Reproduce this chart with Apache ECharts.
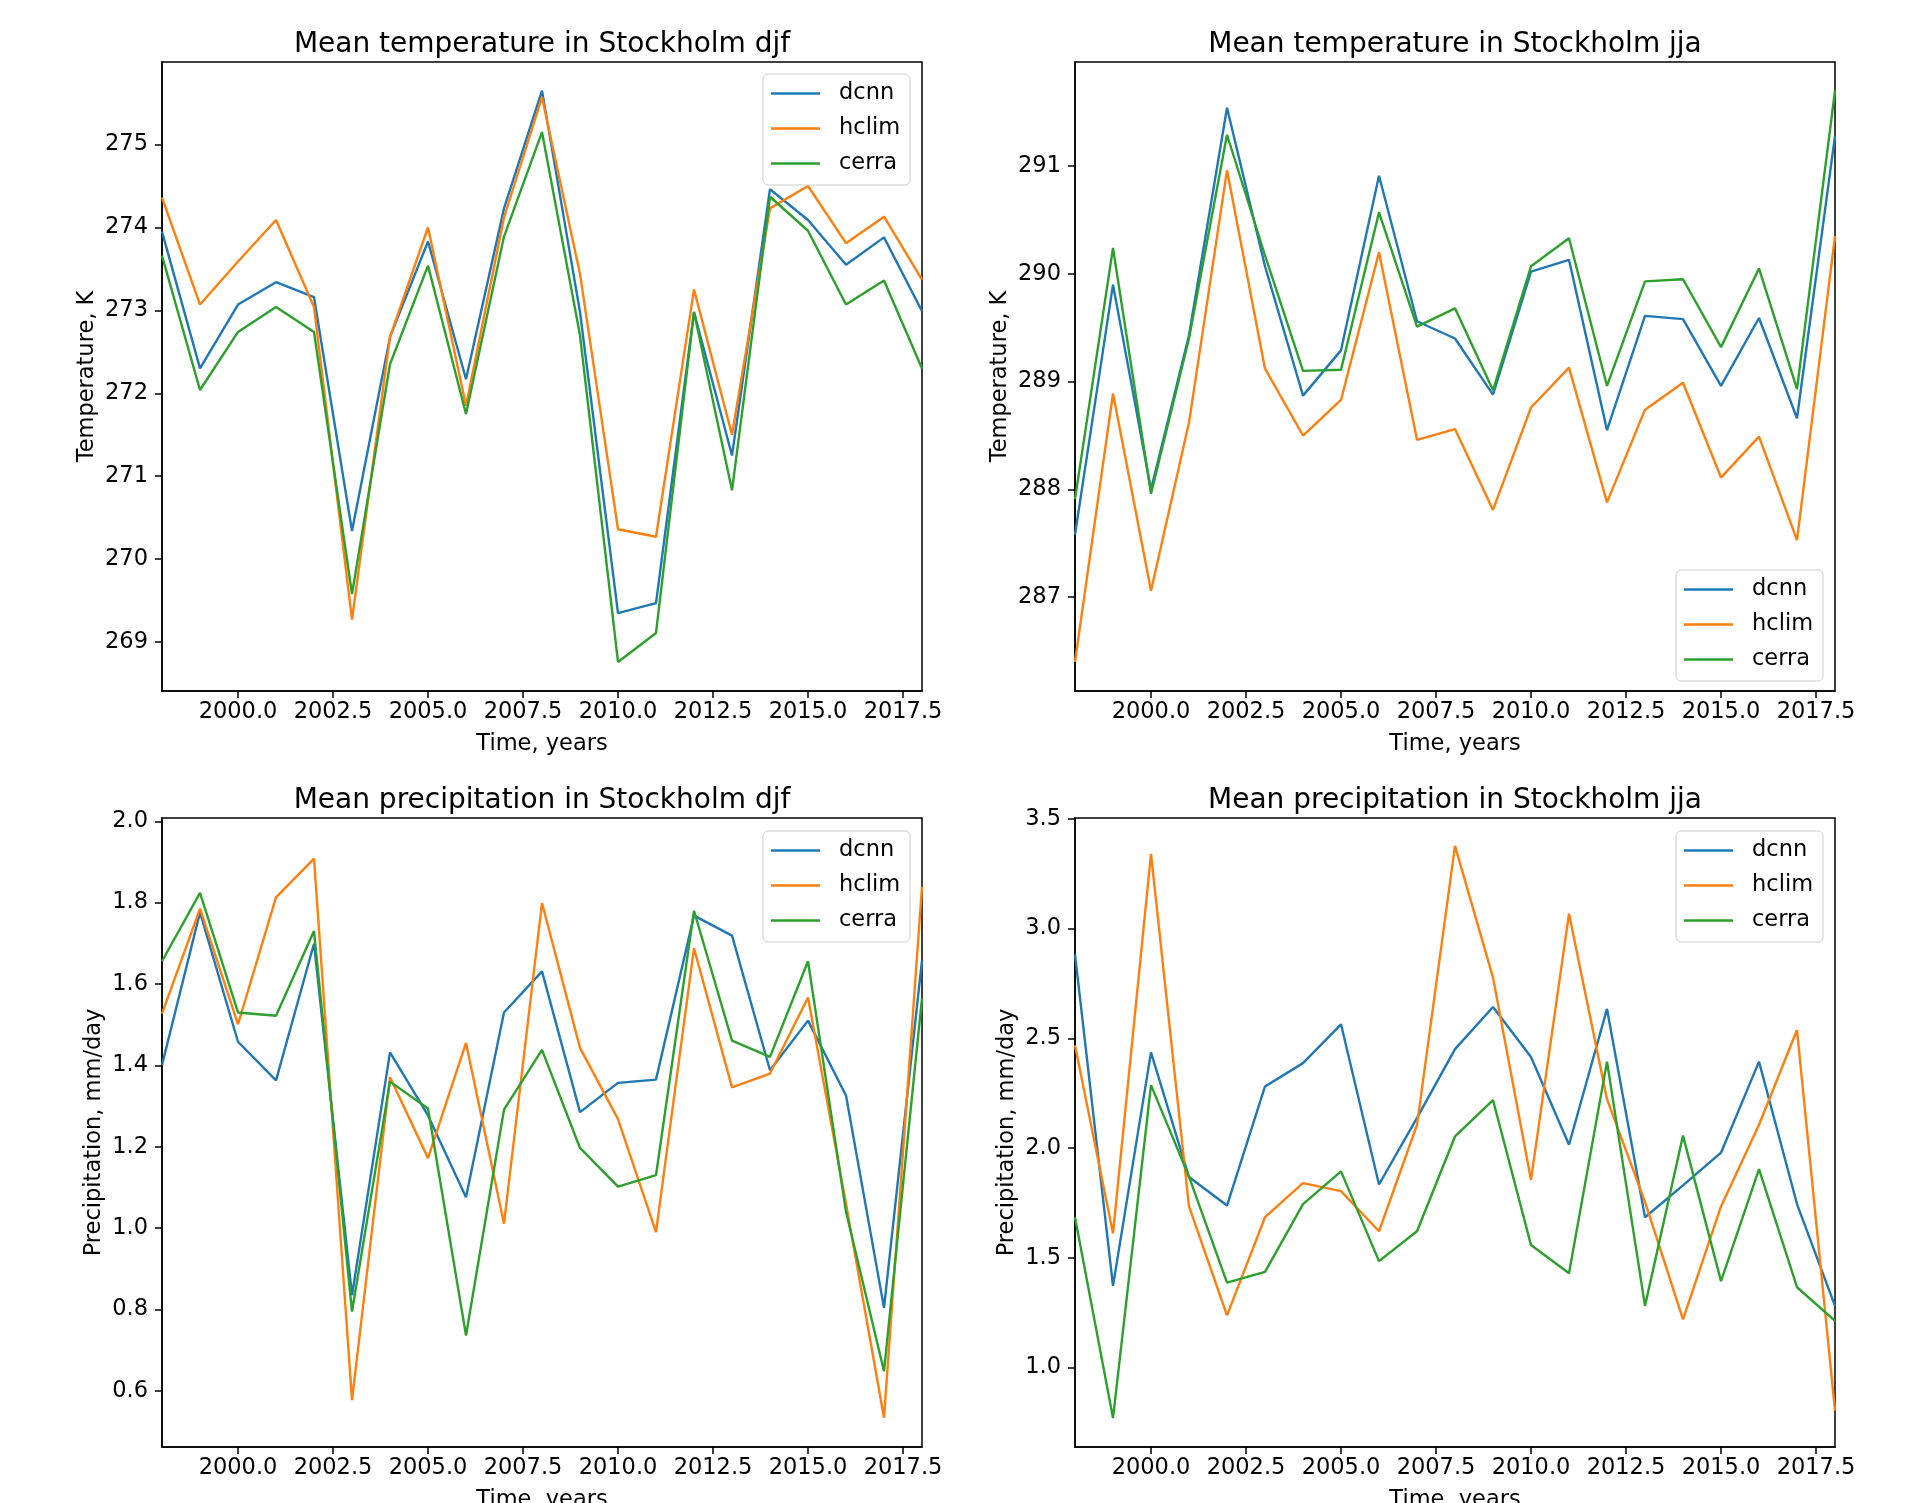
<!DOCTYPE html>
<html>
<head>
<meta charset="utf-8">
<script src="https://cdn.jsdelivr.net/npm/echarts@6/dist/echarts.min.js"></script>
<style>
  html, body { margin: 0; padding: 0; background: #ffffff; }
  #chart { width: 1908px; height: 1503px; }
</style>
</head>
<body>
<div id="chart"></div>
<script>
// Seasonal means for Stockholm, 1998-2018
const years = [1998, 1999, 2000, 2001, 2002, 2003, 2004, 2005, 2006, 2007, 2008,
               2009, 2010, 2011, 2012, 2013, 2014, 2015, 2016, 2017, 2018];
const seriesNames = ['dcnn', 'hclim', 'cerra'];

// Mean temperature, winter (djf), K
const tempDjfDcnn  = [273.95, 272.30, 273.07, 273.34, 273.16, 270.34, 272.68, 273.83, 272.17, 274.23, 275.65,
                      272.98, 269.35, 269.47, 272.98, 271.25, 274.46, 274.09, 273.55, 273.88, 272.99];
const tempDjfHclim = [274.36, 273.07, 273.59, 274.09, 273.04, 269.27, 272.68, 274.00, 271.85, 274.12, 275.57,
                      273.44, 270.36, 270.27, 273.25, 271.50, 274.23, 274.50, 273.81, 274.13, 273.37];
const tempDjfCerra = [273.66, 272.04, 272.74, 273.04, 272.74, 269.58, 272.35, 273.54, 271.75, 273.89, 275.15,
                      272.70, 268.76, 269.11, 272.98, 270.83, 274.37, 273.96, 273.07, 273.36, 272.30];

// Mean temperature, summer (jja), K
const tempJjaDcnn  = [287.58, 289.90, 288.00, 289.43, 291.54, 290.07, 288.87, 289.29, 290.91, 289.56, 289.40,
                      288.88, 290.02, 290.13, 288.55, 289.61, 289.58, 288.96, 289.59, 288.66, 291.28];
const tempJjaHclim = [286.40, 288.89, 287.06, 288.62, 290.96, 289.12, 288.50, 288.83, 290.20, 288.46, 288.56,
                      287.81, 288.76, 289.13, 287.88, 288.74, 288.99, 288.11, 288.49, 287.53, 290.35];
const tempJjaCerra = [287.91, 290.24, 287.96, 289.40, 291.29, 290.17, 289.10, 289.11, 290.57, 289.51, 289.68,
                      288.92, 290.07, 290.33, 288.96, 289.93, 289.95, 289.32, 290.05, 288.93, 291.70];

// Mean precipitation, winter (djf), mm/day
const precDjfDcnn  = [1.401, 1.776, 1.458, 1.363, 1.699, 0.835, 1.432, 1.277, 1.076, 1.530, 1.631,
                      1.285, 1.357, 1.365, 1.768, 1.719, 1.388, 1.510, 1.326, 0.804, 1.658];
const precDjfHclim = [1.527, 1.785, 1.501, 1.813, 1.908, 0.577, 1.371, 1.172, 1.455, 1.011, 1.799,
                      1.443, 1.268, 0.990, 1.688, 1.346, 1.380, 1.567, 1.060, 0.534, 1.839];
const precDjfCerra = [1.656, 1.824, 1.530, 1.522, 1.730, 0.795, 1.360, 1.294, 0.736, 1.291, 1.438,
                      1.197, 1.102, 1.130, 1.780, 1.461, 1.421, 1.656, 1.040, 0.648, 1.565];

// Mean precipitation, summer (jja), mm/day
const precJjaDcnn  = [2.883, 1.372, 2.436, 1.868, 1.738, 2.281, 2.387, 2.564, 1.834, 2.138, 2.451,
                      2.643, 2.415, 2.015, 2.634, 1.685, 1.830, 1.979, 2.394, 1.745, 1.281];
const precJjaHclim = [2.468, 1.611, 3.340, 1.734, 1.238, 1.685, 1.840, 1.804, 1.621, 2.106, 3.377,
                      2.777, 1.855, 3.068, 2.223, 1.755, 1.219, 1.734, 2.106, 2.538, 0.804];
const precJjaCerra = [1.685, 0.770, 2.287, 1.870, 1.387, 1.436, 1.745, 1.894, 1.485, 1.621, 2.053,
                      2.219, 1.558, 1.430, 2.394, 1.281, 2.057, 1.394, 1.904, 1.366, 1.213];

// Tick labels
const xTicks = [2000, 2002.5, 2005, 2007.5, 2010, 2012.5, 2015, 2017.5];
const tempDjfTicks = [269, 270, 271, 272, 273, 274, 275];
const tempJjaTicks = [287, 288, 289, 290, 291];
const precDjfTicks = [0.6, 0.8, 1.0, 1.2, 1.4, 1.6, 1.8, 2.0];
const precJjaTicks = [1.0, 1.5, 2.0, 2.5, 3.0, 3.5];

const colors = ['#1f77b4', '#ff7f0e', '#2ca02c'];
const FONT = 'DejaVu Sans';
const GRID_W = 760, GRID_H = 629;

const panels = [
  { title: 'Mean temperature in Stockholm djf', yName: 'Temperature, K',
    data: [tempDjfDcnn, tempDjfHclim, tempDjfCerra], yRange: [268.41, 275.995],
    ticks: tempDjfTicks, digits: 0, left: 162, top: 62, nameGap: 63, titleTop: 31,
    legend: { left: 763, top: 74 } },
  { title: 'Mean temperature in Stockholm jja', yName: 'Temperature, K',
    data: [tempJjaDcnn, tempJjaHclim, tempJjaCerra], yRange: [286.13, 291.965],
    ticks: tempJjaTicks, digits: 0, left: 1075, top: 62, nameGap: 63, titleTop: 31,
    legend: { left: 1676, top: 570 } },
  { title: 'Mean precipitation in Stockholm djf', yName: 'Precipitation, mm/day',
    data: [precDjfDcnn, precDjfHclim, precDjfCerra], yRange: [0.462, 2.008],
    ticks: precDjfTicks, digits: 1, left: 162, top: 818, nameGap: 56, titleTop: 787,
    legend: { left: 763, top: 831 } },
  { title: 'Mean precipitation in Stockholm jja', yName: 'Precipitation, mm/day',
    data: [precJjaDcnn, precJjaHclim, precJjaCerra], yRange: [0.638, 3.504],
    ticks: precJjaTicks, digits: 1, left: 1075, top: 818, nameGap: 56, titleTop: 787,
    legend: { left: 1676, top: 831 } }
];

const axisLineStyle = { color: '#000', width: 1.5 };
const labelStyle = { fontFamily: FONT, fontSize: 22.5, color: '#000' };

const option = {
  animation: false,
  backgroundColor: '#ffffff',
  title: panels.map(p => ({
    text: p.title,
    left: p.left + GRID_W / 2,
    top: p.titleTop,
    textAlign: 'center',
    padding: 0,
    textStyle: { fontFamily: FONT, fontSize: 28, fontWeight: 'normal', color: '#000' }
  })),
  grid: panels.map(p => ({
    left: p.left, top: p.top, width: GRID_W, height: GRID_H,
    show: true, borderColor: '#000', borderWidth: 1.5, backgroundColor: 'transparent',
    containLabel: false, outerBoundsMode: 'none'
  })),
  xAxis: panels.map((p, i) => ({
    gridIndex: i, type: 'value', min: 1998, max: 2018,
    name: 'Time, years', nameLocation: 'middle', nameGap: 42,
    nameTextStyle: labelStyle,
    axisLine: { show: true, onZero: false, lineStyle: axisLineStyle },
    axisTick: { show: true, length: 7, lineStyle: axisLineStyle, customValues: xTicks },
    axisLabel: Object.assign({ customValues: xTicks, margin: 10,
      formatter: v => Number(v).toFixed(1) }, labelStyle),
    splitLine: { show: false }
  })),
  yAxis: panels.map((p, i) => ({
    gridIndex: i, type: 'value', min: p.yRange[0], max: p.yRange[1],
    name: p.yName, nameLocation: 'middle', nameRotate: 90, nameGap: p.nameGap,
    nameTextStyle: labelStyle,
    axisLine: { show: true, onZero: false, lineStyle: axisLineStyle },
    axisTick: { show: true, length: 7, lineStyle: axisLineStyle, customValues: p.ticks },
    axisLabel: Object.assign({ customValues: p.ticks, margin: 14,
      formatter: v => Number(v).toFixed(p.digits) }, labelStyle),
    splitLine: { show: false }
  })),
  legend: panels.map(p => ({
    data: seriesNames,
    orient: 'vertical',
    left: p.legend.left, top: p.legend.top,
    icon: 'rect',
    itemWidth: 49, itemHeight: 2.5, itemGap: 12,
    selectedMode: false,
    backgroundColor: 'rgba(255,255,255,0.8)',
    borderColor: '#cccccc', borderWidth: 1, borderRadius: 5,
    padding: [8, 10, 10, 8],
    textStyle: Object.assign({ padding: [0, 0, 0, 14] }, labelStyle)
  })),
  series: []
};

panels.forEach((p, i) => {
  p.data.forEach((values, k) => {
    option.series.push({
      type: 'line',
      name: seriesNames[k],
      xAxisIndex: i, yAxisIndex: i,
      data: years.map((yr, j) => [yr, values[j]]),
      symbol: 'none',
      lineStyle: { width: 2.4, color: colors[k] },
      itemStyle: { color: colors[k] },
      emphasis: { disabled: true }
    });
  });
});

const chart = echarts.init(document.getElementById('chart'), null, { renderer: 'canvas' });
chart.setOption(option);
</script>
</body>
</html>
